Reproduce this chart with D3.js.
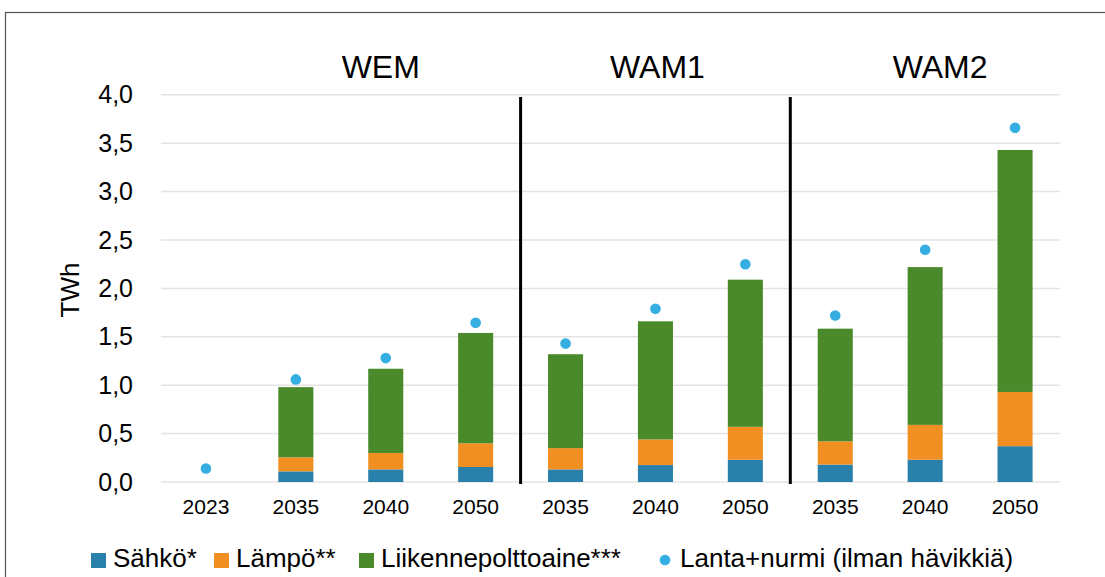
<!DOCTYPE html>
<html>
<head>
<meta charset="utf-8">
<script src="https://cdn.jsdelivr.net/npm/d3@7"></script>
<style>
  html, body { margin: 0; padding: 0; background: #fff; }
  svg { display: block; font-family: "Liberation Sans", Arial, sans-serif; }
</style>
</head>
<body>
<svg id="chart" width="1105" height="577"></svg>
<script>
// ---- data ----
const groups = ["", "WEM", "WEM", "WEM", "WAM1", "WAM1", "WAM1", "WAM2", "WAM2", "WAM2"];
const years  = ["2023", "2035", "2040", "2050", "2035", "2040", "2050", "2035", "2040", "2050"];
const sahko  = [0, 0.11, 0.13, 0.155, 0.13, 0.175, 0.23, 0.18, 0.23, 0.37];
const lampo  = [0, 0.145, 0.17, 0.245, 0.22, 0.265, 0.34, 0.24, 0.36, 0.56];
const liikenne = [0, 0.725, 0.87, 1.14, 0.97, 1.22, 1.52, 1.164, 1.63, 2.50];
const lanta  = [0.14, 1.06, 1.28, 1.645, 1.43, 1.79, 2.25, 1.72, 2.40, 3.66];
const yTicks = [0, 0.5, 1.0, 1.5, 2.0, 2.5, 3.0, 3.5, 4.0];
const groupNames = ["WEM", "WAM1", "WAM2"];
const seriesNames = ["Sähkö*", "Lämpö**", "Liikennepolttoaine***"];
const dotName = "Lanta+nurmi (ilman hävikkiä)";

const colors = ["#2880ab", "#f18f22", "#4b8a2b"];
const dotColor = "#35aee2";

// ---- build table ----
const keys = years.map((y, i) => i + "_" + y);
const table = keys.map((k, i) => ({ key: k, s0: sahko[i], s1: lampo[i], s2: liikenne[i] }));
const stack = d3.stack().keys(["s0", "s1", "s2"])(table);

const svg = d3.select("#chart");
const fmt = v => d3.format(".1f")(v).replace(".", ",");

// outer frame
svg.append("rect").attr("x", 5.5).attr("y", 12.5).attr("width", 1200).attr("height", 700)
  .attr("fill", "none").attr("stroke", "#555").attr("stroke-width", 1.2);

const x = d3.scaleBand().domain(keys).range([161, 1060]).paddingInner(0.61).paddingOuter(0.305);
const y = d3.scaleLinear().domain([0, 4]).range([482, 94.8]);

// gridlines
svg.append("g").selectAll("line").data(yTicks).join("line")
  .attr("x1", 161).attr("x2", 1060)
  .attr("y1", d => y(d)).attr("y2", d => y(d))
  .attr("stroke", "#e3e3e3").attr("stroke-width", 1.5);

// y axis labels
const yAxis = d3.axisLeft(y).tickValues(yTicks).tickFormat(fmt).tickSize(0).tickPadding(0);
const yg = svg.append("g").attr("transform", "translate(133,0)").call(yAxis);
yg.select(".domain").remove();
yg.selectAll("text").attr("font-size", 25).attr("fill", "#000")
  .attr("font-family", "'Liberation Sans', Arial, sans-serif");

// x axis labels
const xAxis = d3.axisBottom(x).tickFormat((k, i) => years[i]).tickSize(0).tickPadding(0);
const xg = svg.append("g").attr("transform", "translate(0,499)").call(xAxis);
xg.select(".domain").remove();
xg.selectAll("text").attr("font-size", 21).attr("fill", "#000")
  .attr("font-family", "'Liberation Sans', Arial, sans-serif");

// bars
svg.append("g").selectAll("g").data(stack).join("g")
  .attr("fill", (d, i) => colors[i])
  .selectAll("rect").data(d => d).join("rect")
  .attr("x", d => x(d.data.key))
  .attr("width", x.bandwidth())
  .attr("y", d => y(d[1]))
  .attr("height", d => Math.max(0, y(d[0]) - y(d[1])));

// dots
svg.append("g").selectAll("circle").data(lanta).join("circle")
  .attr("cx", (d, i) => x(keys[i]) + x.bandwidth() / 2)
  .attr("cy", d => y(d))
  .attr("r", 5.3)
  .attr("fill", dotColor);

// group separators
const step = x.step();
[4, 7].forEach(i => {
  const sx = x(keys[i]) - x.paddingInner() * step / 2;
  svg.append("line").attr("x1", sx).attr("x2", sx)
    .attr("y1", 97).attr("y2", 484)
    .attr("stroke", "#000").attr("stroke-width", 3);
});

// group titles
const titleDx = [-5, 2, 15];
groupNames.forEach((g, gi) => {
  const idx = groups.map((v, i) => v === g ? i : -1).filter(i => i >= 0);
  const cx = (x(keys[idx[0]]) + x(keys[idx[idx.length - 1]]) + x.bandwidth()) / 2;
  svg.append("text").attr("x", cx + titleDx[gi]).attr("y", 78)
    .attr("text-anchor", "middle").attr("font-size", 32).attr("fill", "#000").text(g);
});

// y axis title
svg.append("text").attr("transform", "translate(79,290) rotate(-90)")
  .attr("text-anchor", "middle").attr("font-size", 26).attr("fill", "#000").text("TWh");

// legend
const legY = 567;
const legItems = [
  { name: seriesNames[0], color: colors[0], x: 91, type: "rect" },
  { name: seriesNames[1], color: colors[1], x: 214, type: "rect" },
  { name: seriesNames[2], color: colors[2], x: 359, type: "rect" },
  { name: dotName, color: dotColor, x: 660, type: "circle" }
];
const leg = svg.append("g");
legItems.forEach(it => {
  if (it.type === "rect") {
    leg.append("rect").attr("x", it.x).attr("y", 553).attr("width", 15).attr("height", 15).attr("fill", it.color);
  } else {
    leg.append("circle").attr("cx", it.x + 5).attr("cy", 560).attr("r", 5.3).attr("fill", it.color);
  }
  leg.append("text").attr("x", it.x + (it.type === "rect" ? 22 : 20)).attr("y", legY)
    .attr("font-size", 26).attr("fill", "#000").text(it.name);
});
</script>
</body>
</html>
